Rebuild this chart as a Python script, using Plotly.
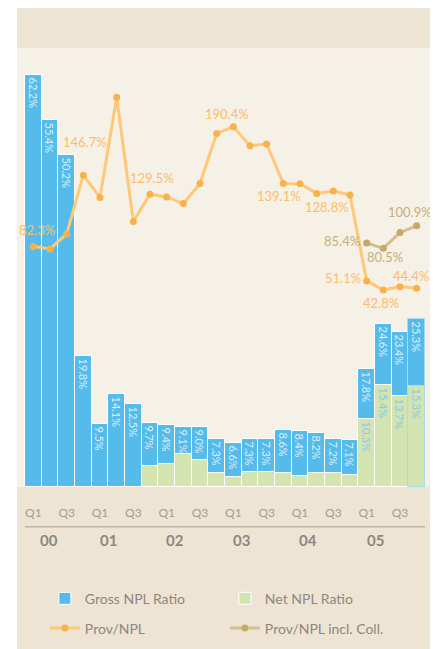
import plotly.graph_objects as go

# ---- data ----
quarters = ["00Q1","00Q2","00Q3","00Q4","01Q1","01Q2","01Q3","01Q4",
            "02Q1","02Q2","02Q3","02Q4","03Q1","03Q2","03Q3","03Q4",
            "04Q1","04Q2","04Q3","04Q4","05Q1","05Q2","05Q3","05Q4"]
gross_npl = [62.2, 55.4, 50.2, 19.8, 9.5, 14.1, 12.5, 9.7,
             9.4, 9.1, 9.0, 7.3, 6.6, 7.3, 7.3, 8.6,
             8.4, 8.2, 7.2, 7.1, 17.8, 24.6, 23.4, 25.3]
net_npl = [None, None, None, None, None, None, None, 3.2,
           3.4, 5.0, 4.1, 2.1, 1.5, 2.2, 2.2, 2.1,
           1.6, 2.1, 2.1, 1.8, 10.3, 15.4, 13.7, 15.3]
net_labelled = [False]*20 + [True]*4
prov_npl = [82.3, 80.0, 93.5, 146.7, 126.6, 217.1, 104.9, 129.5,
            127.0, 121.0, 139.2, 184.4, 190.4, 173.4, 174.9, 139.1,
            139.0, 130.2, 132.3, 128.8, 51.1, 42.8, 45.9, 44.4]
prov_coll_x = [20, 21, 22, 23]
prov_coll = [85.4, 80.5, 94.9, 100.9]
tick_pos = list(range(0, 24, 2))
tick_text = ["Q1", "Q3"] * 6
years = ["00", "01", "02", "03", "04", "05"]
year_pos = [0.94, 4.5, 8.5, 12.5, 16.5, 20.5]
# labelled points of the lines: (index, xshift, yshift)
prov_labels = [(0, 4, 16), (3, 2, 33), (7, 2, 16), (12, -6, 13), (15, -4, -12),
               (19, -23, -12), (20, -24, 3), (21, -2, -13), (23, -6, 12)]
coll_labels = [(0, -25, 2), (1, 2, -9), (3, -7, 14)]

# ---- style ----
BLUE = "#55BBEA"
GREEN = "#D3E4B1"
ORANGE_LINE = "#FFC878"
ORANGE_MK = "#F9B24A"
TAN_LINE = "#D5BF90"
TAN_MK = "#C6A86A"
DARK_BG = "#EDE4D3"
LIGHT_BG = "#F6F1E6"
GREY = "#8E8880"
FONT = "Lato"

x = list(range(len(quarters)))
line_cols = ["white"] * 23 + ["#A8DAF0"]

fig = go.Figure()
fig.add_trace(go.Bar(
    x=x, y=gross_npl, name="Gross NPL Ratio",
    marker=dict(color=BLUE, line=dict(color=line_cols, width=1)),
    text=[f"{v:.1f}%" for v in gross_npl],
    textposition="inside", insidetextanchor="end", textangle=90,
    textfont=dict(color="#DCEFFA", size=11, family=FONT),
    hoverinfo="skip", legend="legend"))
fig.add_trace(go.Bar(
    x=x, y=net_npl, name="Net NPL Ratio",
    marker=dict(color=GREEN, line=dict(color=line_cols, width=1)),
    text=[f"{v:.1f}%" if (v is not None and lab) else "" for v, lab in zip(net_npl, net_labelled)],
    textposition="inside", insidetextanchor="end", textangle=90,
    textfont=dict(color="#86CBEC", size=11, family=FONT),
    hoverinfo="skip", legend="legend"))
fig.add_trace(go.Scatter(
    x=x, y=prov_npl, name="Prov/NPL", yaxis="y2", mode="lines+markers",
    line=dict(color=ORANGE_LINE, width=3),
    marker=dict(color=ORANGE_MK, size=7),
    hoverinfo="skip", legend="legend2"))
fig.add_trace(go.Scatter(
    x=prov_coll_x, y=prov_coll, name="Prov/NPL incl. Coll.", yaxis="y2",
    mode="lines+markers",
    line=dict(color=TAN_LINE, width=3),
    marker=dict(color=TAN_MK, size=7),
    hoverinfo="skip", legend="legend2"))

annotations = []
for i, dx, dy in prov_labels:
    annotations.append(dict(x=x[i], y=prov_npl[i], xref="x", yref="y2",
                            text=f"{prov_npl[i]:.1f}%", showarrow=False,
                            xshift=dx, yshift=dy,
                            font=dict(color="#FCBD68", size=13, family=FONT)))
for j, dx, dy in coll_labels:
    annotations.append(dict(x=prov_coll_x[j], y=prov_coll[j], xref="x", yref="y2",
                            text=f"{prov_coll[j]:.1f}%", showarrow=False,
                            xshift=dx, yshift=dy,
                            font=dict(color="#C8AD7A", size=13, family=FONT)))
for yr, pos in zip(years, year_pos):
    annotations.append(dict(x=pos, y=-0.1215, xref="x", yref="paper",
                            yanchor="middle", xanchor="center",
                            text=f"<b>{yr}</b>", showarrow=False,
                            font=dict(color=GREY, size=15, family=FONT)))

shapes = [
    # divider line under quarter ticks
    dict(type="line", xref="paper", yref="paper", x0=0.0192, x1=0.9808,
         y0=-0.0905, y1=-0.0905, line=dict(color="#BCB4A6", width=1.5)),
    # white page margins around the panel
    dict(type="rect", xref="paper", yref="paper", x0=-0.1, x1=0, y0=-0.5, y1=1.2,
         fillcolor="white", line=dict(width=0), layer="below"),
    dict(type="rect", xref="paper", yref="paper", x0=1.0, x1=1.1, y0=-0.5, y1=1.2,
         fillcolor="white", line=dict(width=0), layer="below"),
]

fig.update_layout(
    width=430, height=641,
    margin=dict(l=9, r=5, t=40, b=158, pad=0),
    paper_bgcolor=DARK_BG, plot_bgcolor=LIGHT_BG,
    barmode="overlay", bargap=0,
    font=dict(family=FONT, color=GREY),
    xaxis=dict(range=[-0.98, 23.98], tickvals=tick_pos, ticktext=tick_text,
               showgrid=False, zeroline=False, showline=False, ticks="",
               ticklabelstandoff=17,
               tickfont=dict(color="#A29C92", size=12, family=FONT)),
    yaxis=dict(range=[0, 66.3], visible=False, showgrid=False),
    yaxis2=dict(range=[-135.3, 261.7], overlaying="y", visible=False, showgrid=False),
    uniformtext=dict(minsize=11, mode="show"),
    legend=dict(orientation="h", x=0.067, xanchor="left", y=-0.2545, yanchor="middle",
                entrywidth=135, bgcolor="rgba(0,0,0,0)",
                font=dict(color=GREY, size=14, family=FONT)),
    legend2=dict(orientation="h", x=0.067, xanchor="left", y=-0.3222, yanchor="middle",
                 entrywidth=135, bgcolor="rgba(0,0,0,0)",
                 font=dict(color=GREY, size=14, family=FONT)),
    annotations=annotations, shapes=shapes,
)

fig.write_html("out.html")
